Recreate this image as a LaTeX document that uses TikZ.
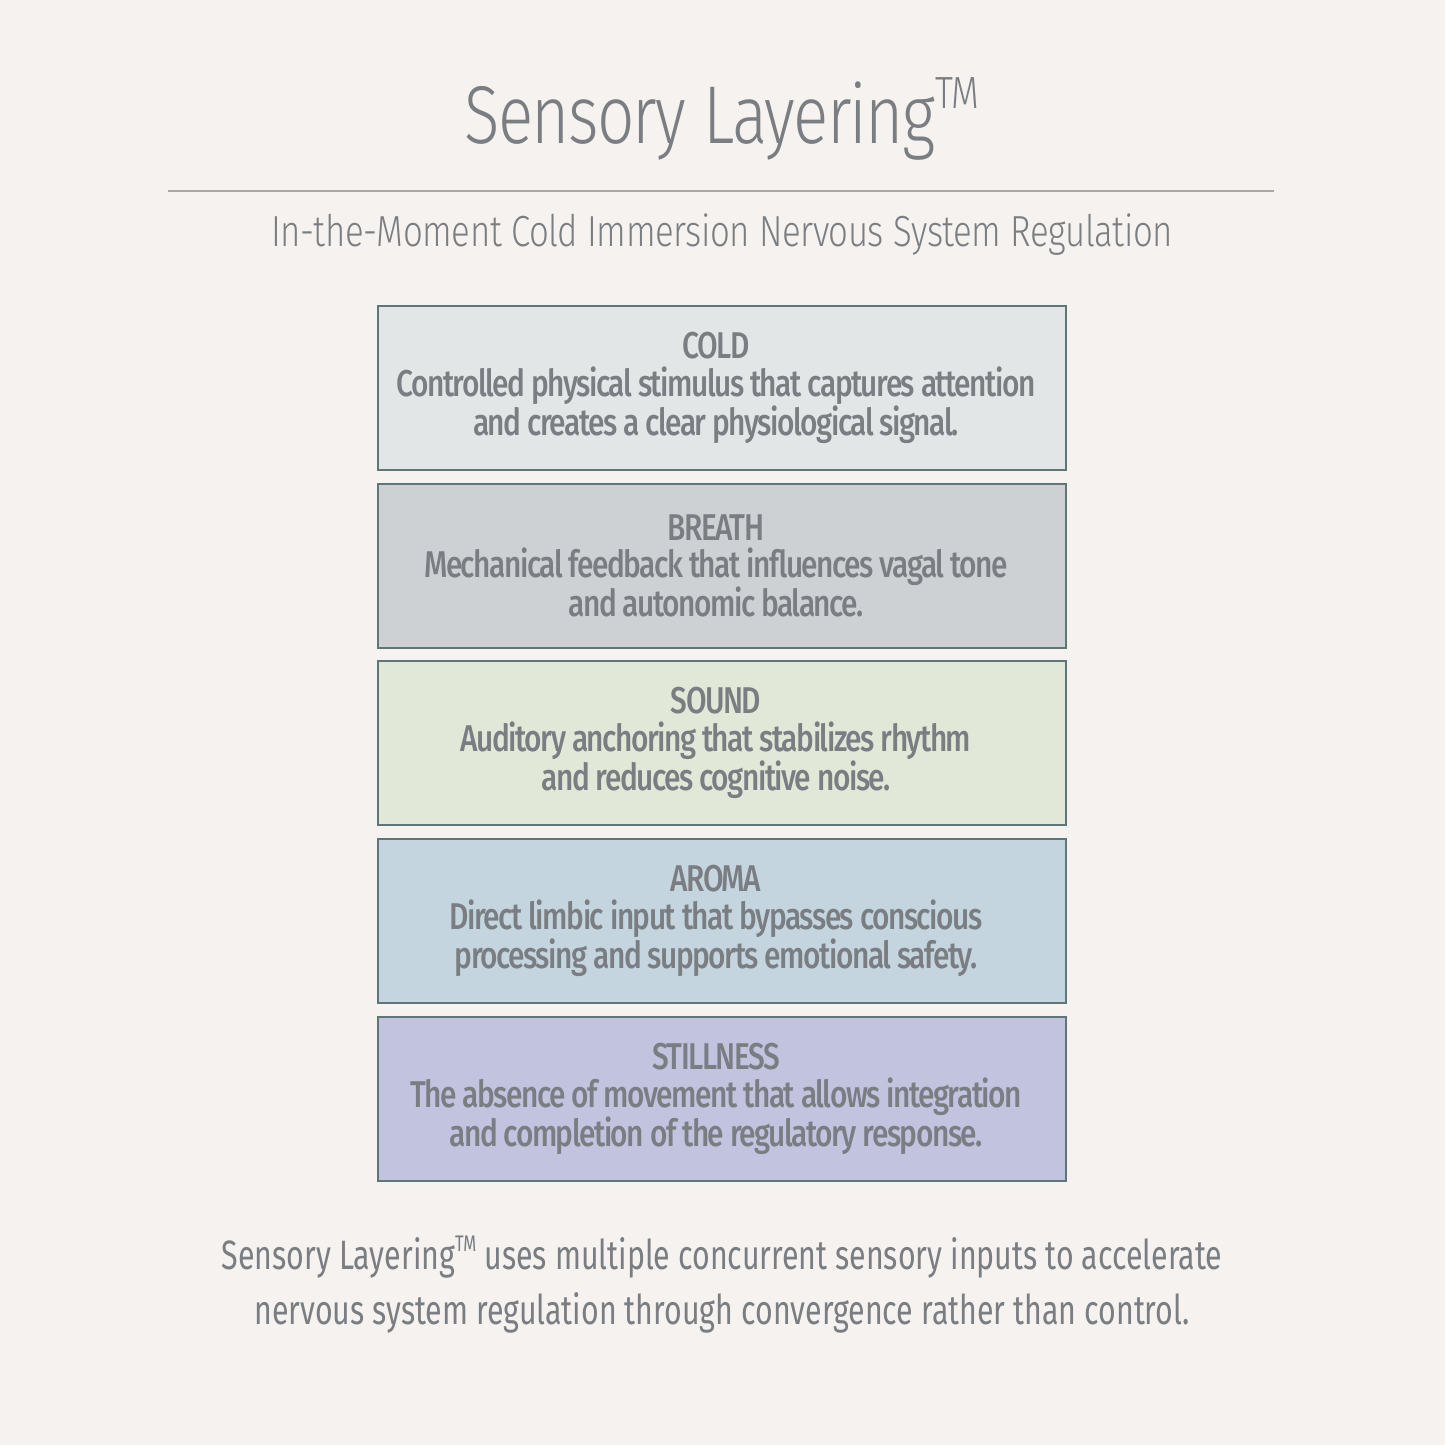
\documentclass[tikz,border=0pt]{standalone}
\usepackage{fontspec}
\setmainfont{Fira Sans}[FakeStretch=0.74]
\newfontfamily\titlefont{Fira Sans Light}[FakeStretch=0.8, LetterSpace=-2]
\newfontfamily\subfont{Fira Sans Light}[FakeStretch=0.8, LetterSpace=-1]
\newfontfamily\boxfont{Fira Sans Medium}[FakeStretch=0.8, LetterSpace=-4]
\definecolor{bgcol}{HTML}{F5F2EF}
\definecolor{txtcol}{HTML}{7A7D81}
\definecolor{rulecol}{HTML}{A9A6A3}
\definecolor{edgecol}{HTML}{5E7678}
\definecolor{coldfill}{HTML}{E3E6E7}
\definecolor{breathfill}{HTML}{CDD1D4}
\definecolor{soundfill}{HTML}{E1E8D8}
\definecolor{aromafill}{HTML}{C4D5DF}
\definecolor{stillfill}{HTML}{C1C3DF}
\newcommand{\tmark}{\raisebox{0.42em}{\scalebox{0.55}{TM}}}
\begin{document}
\begin{tikzpicture}[x=1pt,y=-1pt,
  layerbox/.style={draw=edgecol, line width=1.4pt, minimum width=688pt, minimum height=164pt, inner sep=0pt},
  layertext/.style={inner sep=0pt, align=center, text=txtcol, font=\boxfont\fontsize{37.3}{37.5}\selectfont},
  titletext/.style={text=txtcol, font=\titlefont\fontsize{82}{90}\selectfont, inner sep=0pt},
  subtext/.style={text=txtcol, font=\subfont\fontsize{43.5}{48}\selectfont, inner sep=0pt},
  foottext/.style={text=txtcol, align=center, font=\fontsize{41}{55}\selectfont, inner sep=0pt}]
\fill[bgcol] (0,0) rectangle (1445,1445);
\useasboundingbox (0,0) rectangle (1445,1445);
\node[titletext, anchor=base] (title) at (722,143) {Sensory Layering\tmark};
\coordinate (rl) at (168,191);
\coordinate (rr) at (1274,191);
\draw[rulecol, line width=1.3pt] (rl) -- (rr);
\node[subtext, anchor=base] (sub) at (722,246) {In-the-Moment Cold Immersion Nervous System Regulation};
\node[layerbox, fill=coldfill] (cold) at (722,388) {};
\node[layerbox, fill=breathfill] (breath) at (722,566) {};
\node[layerbox, fill=soundfill] (sound) at (722,743) {};
\node[layerbox, fill=aromafill] (aroma) at (722,921) {};
\node[layerbox, fill=stillfill] (still) at (722,1099) {};
\node[layertext] (coldt) at ([xshift=-6pt]cold.center) {COLD\\Controlled physical stimulus that captures attention\\and creates a clear physiological signal.};
\node[layertext] (breatht) at ([xshift=-6pt]breath.center) {BREATH\\Mechanical feedback that influences vagal tone\\and autonomic balance.};
\node[layertext] (soundt) at ([xshift=-6pt]sound.center) {SOUND\\Auditory anchoring that stabilizes rhythm\\and reduces cognitive noise.};
\node[layertext] (aromat) at ([xshift=-6pt]aroma.center) {AROMA\\Direct limbic input that bypasses conscious\\processing and supports emotional safety.};
\node[layertext] (stillt) at ([xshift=-6pt]still.center) {STILLNESS\\The absence of movement that allows integration\\and completion of the regulatory response.};
\node[foottext, anchor=base] (foot1) at (722,1269) {Sensory Layering\tmark{} uses multiple concurrent sensory inputs to accelerate};
\node[foottext, anchor=base] (foot2) at (722,1324) {nervous system regulation through convergence rather than control.};
\end{tikzpicture}
\end{document}
